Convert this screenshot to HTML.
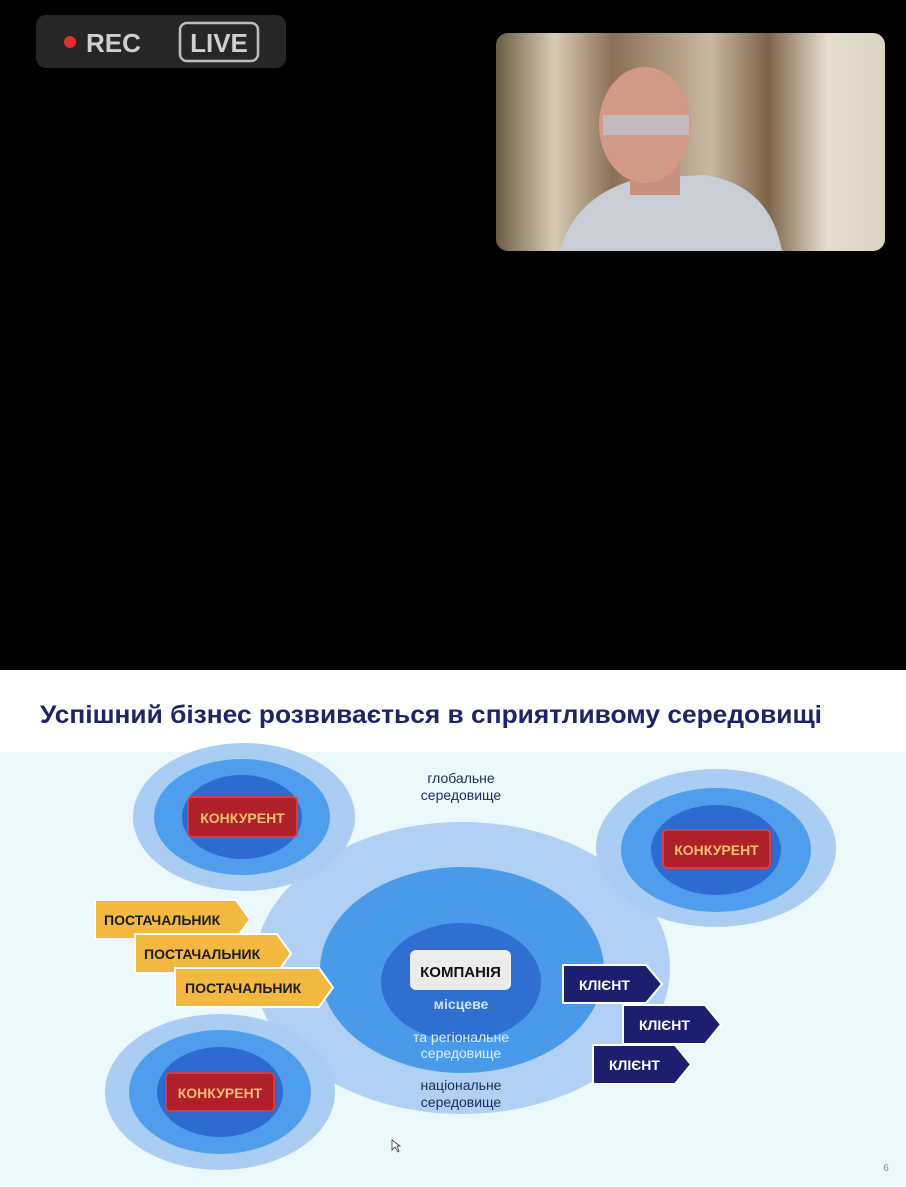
<!DOCTYPE html>
<html><head><meta charset="utf-8"><style>
html,body{margin:0;padding:0;background:#000;}
body{width:906px;height:1187px;overflow:hidden;position:relative;font-family:"Liberation Sans","DejaVu Sans",sans-serif;}
</style></head><body>
<svg width="906" height="1187" viewBox="0 0 906 1187" xmlns="http://www.w3.org/2000/svg" style="position:absolute;left:0;top:0">
<defs>
<linearGradient id="bg" x1="0" y1="0" x2="1" y2="0">
<stop offset="0" stop-color="#6b5b45"/><stop offset="0.15" stop-color="#d8cbb4"/><stop offset="0.3" stop-color="#8a7055"/><stop offset="0.55" stop-color="#c9b9a0"/><stop offset="0.7" stop-color="#7d6448"/><stop offset="0.85" stop-color="#e6ddd0"/><stop offset="1" stop-color="#ddd3c4"/>
</linearGradient>
<clipPath id="vc"><rect x="496" y="33" width="389" height="218" rx="12"/></clipPath>
</defs>
<rect width="906" height="670" fill="#000"/>
<rect x="36" y="15" width="250" height="53" rx="10" fill="#262626"/>
<circle cx="70" cy="42" r="6" fill="#e0322c"/>
<text x="86" y="52" font-size="26" font-weight="bold" fill="#cfcfcf">REC</text>
<rect x="180" y="23" width="78" height="38" rx="7" fill="none" stroke="#bdbdbd" stroke-width="2.5"/>
<text x="219" y="52" font-size="26" font-weight="bold" fill="#cfcfcf" text-anchor="middle">LIVE</text>
<g clip-path="url(#vc)">
<rect x="496" y="33" width="389" height="218" fill="url(#bg)"/>
<path d="M560 251 Q575 195 640 178 L705 175 Q770 185 782 251 Z" fill="#c8cdd6"/>
<rect x="630" y="150" width="50" height="45" fill="#c7907c"/>
<ellipse cx="645" cy="125" rx="46" ry="58" fill="#d39a86"/>
<rect x="603" y="115" width="86" height="20" fill="#b9c9d8" opacity="0.7"/>
</g>
<rect x="0" y="670" width="906" height="517" fill="#ffffff"/>
<rect x="0" y="752" width="906" height="435" fill="#ebf8fc"/>
<text x="40" y="723" font-size="25" font-weight="bold" fill="#1e2466" textLength="782" lengthAdjust="spacingAndGlyphs">Успішний бізнес розвивається в сприятливому середовищі</text>
<!-- main -->
<ellipse cx="462" cy="968" rx="208" ry="146" fill="#b0d1f5"/>
<ellipse cx="462" cy="970" rx="142" ry="103" fill="#4a9aea"/>
<ellipse cx="461" cy="982" rx="80" ry="59" fill="#2f6fd0"/>
<rect x="410" y="950" width="101" height="40" rx="6" fill="#ececec"/>
<text x="460.5" y="977" font-size="15" font-weight="bold" fill="#111" text-anchor="middle">КОМПАНІЯ</text>
<text x="461" y="1009" font-size="14" font-weight="bold" fill="#cfe3ff" text-anchor="middle">місцеве</text>
<text x="461" y="1042" font-size="14" fill="#dcefff" text-anchor="middle">та регіональне</text>
<text x="461" y="1058" font-size="14" fill="#dcefff" text-anchor="middle">середовище</text>
<text x="461" y="1090" font-size="14" fill="#1d2a5a" text-anchor="middle">національне</text>
<text x="461" y="1107" font-size="14" fill="#1d2a5a" text-anchor="middle">середовище</text>
<text x="461" y="783" font-size="14" fill="#1d2a5a" text-anchor="middle">глобальне</text>
<text x="461" y="800" font-size="14" fill="#1d2a5a" text-anchor="middle">середовище</text>
<!-- competitors -->
<g>
<ellipse cx="244" cy="817" rx="111" ry="74" fill="#aacdf3"/>
<ellipse cx="242" cy="817" rx="88" ry="58" fill="#4f9ded"/>
<ellipse cx="242" cy="817" rx="60" ry="42" fill="#2e6bd0"/>
<rect x="188" y="797" width="109" height="40" rx="4" fill="#b0202a" stroke="#d0404a" stroke-width="2"/>
<text x="242.5" y="823" font-size="14" font-weight="bold" fill="#f5c070" text-anchor="middle">КОНКУРЕНТ</text>
</g>
<g>
<ellipse cx="716" cy="848" rx="120" ry="79" fill="#aacdf3"/>
<ellipse cx="716" cy="850" rx="95" ry="62" fill="#4f9ded"/>
<ellipse cx="716" cy="850" rx="65" ry="45" fill="#2e6bd0"/>
<rect x="663" y="830" width="107" height="38" rx="4" fill="#b0202a" stroke="#d0404a" stroke-width="2"/>
<text x="716.5" y="855" font-size="14" font-weight="bold" fill="#f5c070" text-anchor="middle">КОНКУРЕНТ</text>
</g>
<g>
<ellipse cx="220" cy="1092" rx="115" ry="78" fill="#aacdf3"/>
<ellipse cx="220" cy="1092" rx="91" ry="62" fill="#4f9ded"/>
<ellipse cx="220" cy="1092" rx="63" ry="45" fill="#2e6bd0"/>
<rect x="166" y="1073" width="108" height="38" rx="4" fill="#b0202a" stroke="#d0404a" stroke-width="2"/>
<text x="220" y="1098" font-size="14" font-weight="bold" fill="#f5c070" text-anchor="middle">КОНКУРЕНТ</text>
</g>
<!-- suppliers -->
<g stroke="#ffffff" stroke-width="2" fill="#f2b840">
<polygon points="95,900 236,900 250,919.5 236,939 95,939"/>
<polygon points="135,934 277,934 291,953.5 277,973 135,973"/>
<polygon points="175,968 319,968 333,987.5 319,1007 175,1007"/>
</g>
<g font-size="14" font-weight="bold" fill="#1c1c1c">
<text x="104" y="925">ПОСТАЧАЛЬНИК</text>
<text x="144" y="959">ПОСТАЧАЛЬНИК</text>
<text x="185" y="993">ПОСТАЧАЛЬНИК</text>
</g>
<!-- clients -->
<g stroke="#ffffff" stroke-width="2" fill="#1c1f6e">
<polygon points="563,965 646,965 662,984 646,1003 563,1003"/>
<polygon points="623,1005 705,1005 721,1024.5 705,1044 623,1044"/>
<polygon points="593,1045 675,1045 691,1064.5 675,1084 593,1084"/>
</g>
<g font-size="14" font-weight="bold" fill="#ffffff">
<text x="579" y="990">КЛІЄНТ</text>
<text x="639" y="1030">КЛІЄНТ</text>
<text x="609" y="1070">КЛІЄНТ</text>
</g>
<path d="M392 1140 L392 1150 L395 1147 L398 1152 L399 1151 L397 1146 L400 1146 Z" fill="#fff" stroke="#333" stroke-width="0.8"/>
<text x="886" y="1171" font-size="10" fill="#888" text-anchor="middle">6</text>
</svg>
</body></html>
